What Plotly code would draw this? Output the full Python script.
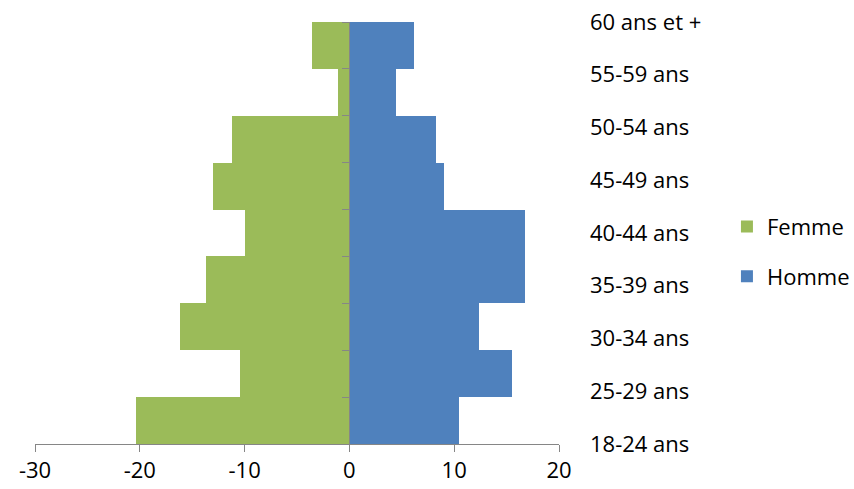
import plotly.graph_objects as go

categories = ["18-24 ans", "25-29 ans", "30-34 ans", "35-39 ans", "40-44 ans",
              "45-49 ans", "50-54 ans", "55-59 ans", "60 ans et +"]
femme = [-20.4, -10.4, -16.2, -13.7, -10.0, -13.0, -11.2, -1.1, -3.6]
homme = [10.5, 15.5, 12.4, 16.8, 16.75, 9.0, 8.3, 4.4, 6.2]
x_ticks = [-30, -20, -10, 0, 10, 20]

FONT = "Open Sans"
AXIS = "#868686"
n = len(categories)
pos = list(range(n))

fig = go.Figure()
fig.add_trace(go.Bar(y=pos, x=femme, orientation="h", name="Femme",
                     marker=dict(color="#9BBB59", line=dict(width=0)),
                     legendgroup="f", width=1, yaxis="y"))
fig.add_trace(go.Bar(y=pos, x=homme, orientation="h", name="Homme",
                     marker=dict(color="#4F81BD", line=dict(width=0)),
                     legendgroup="h", width=1, yaxis="y2"))

label_pos = [-0.5 + i * n / (n - 1) for i in range(n)]

fig.update_layout(
    width=854, height=489,
    margin=dict(l=35, r=295, t=22, b=45, autoexpand=False),
    paper_bgcolor="white", plot_bgcolor="white",
    barmode="overlay", bargap=0,
    font=dict(family=FONT, size=22, color="black"),
    xaxis=dict(range=[-30, 20], tickvals=x_ticks, ticktext=[str(v) for v in x_ticks],
               showgrid=False, zeroline=False, showline=True, linecolor=AXIS,
               linewidth=1, ticks="outside", ticklen=7, tickcolor=AXIS,
               tickfont=dict(size=22), anchor="y", automargin=False),
    yaxis=dict(range=[-0.5, n - 0.5], tickvals=[i - 0.5 for i in range(n + 1)],
               showticklabels=False, showgrid=False, zeroline=False,
               showline=True, linecolor=AXIS, linewidth=1,
               ticks="outside", ticklen=7, tickcolor=AXIS,
               anchor="free", position=0.6, automargin=False),
    yaxis2=dict(range=[-0.5, n - 0.5], overlaying="y", side="right", anchor="x",
                tickvals=label_pos, ticktext=categories, showgrid=False,
                zeroline=False, showline=False, ticks="", ticklabelstandoff=30,
                tickfont=dict(size=22), automargin=False),
    legend=dict(x=1.3205, y=0.4555, xanchor="left", yanchor="middle",
                traceorder="grouped", tracegroupgap=18, font=dict(size=22),
                bgcolor="rgba(0,0,0,0)"),
    showlegend=True,
)

fig.write_html("out.html",
               config={"displayModeBar": False},
               post_script="document.body.style.margin='0px';"
                           "document.body.style.overflow='hidden';")
